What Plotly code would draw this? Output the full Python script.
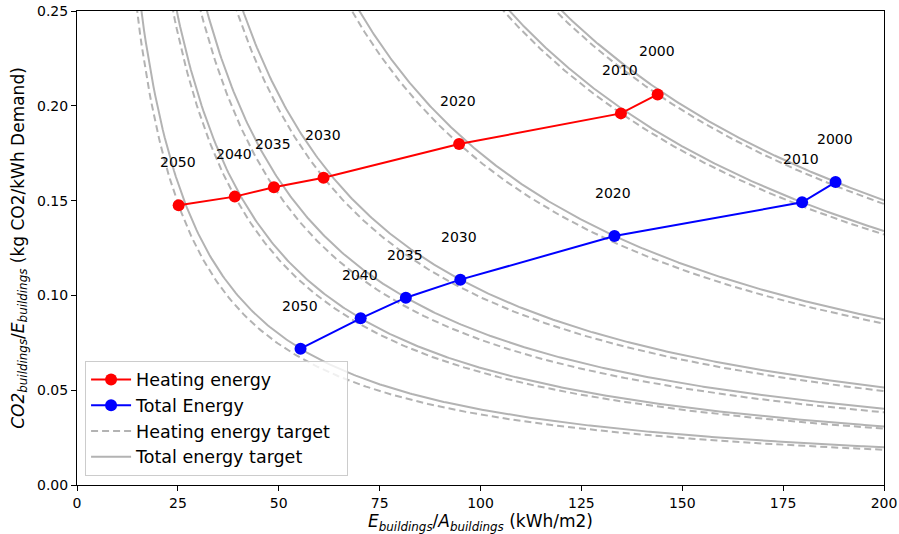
import numpy as np
import plotly.graph_objects as go

years = ["2000", "2010", "2020", "2030", "2035", "2040", "2050"]
heating_x = [143.9, 134.8, 94.7, 61.1, 48.8, 39.1, 25.2]
heating_y = [0.206, 0.196, 0.1798, 0.1621, 0.157, 0.1521, 0.1475]
total_x = [188.0, 179.7, 133.2, 95.0, 81.5, 70.3, 55.4]
total_y = [0.1598, 0.1491, 0.1313, 0.1083, 0.0988, 0.0879, 0.0719]

x_ticks = [0, 25, 50, 75, 100, 125, 150, 175, 200]
y_ticks = [0.0, 0.05, 0.10, 0.15, 0.20, 0.25]

FONT = "DejaVu Sans"
GRAY = "#b3b3b3"
PAD = "\u00a0\u00a0"

fig = go.Figure()

# target curves: constant CO2 per area (k = x*y) through each point
for i in range(len(years)):
    for xs, ys, dash, name, rank in [
        (heating_x, heating_y, "7px,4px", "Heating energy target", 3),
        (total_x, total_y, "solid", "Total energy target", 4),
    ]:
        k = xs[i] * ys[i]
        cx = np.linspace(k / 0.27, 200, 400)
        fig.add_trace(go.Scatter(
            x=cx, y=k / cx, mode="lines",
            line=dict(color=GRAY, width=2, dash=dash),
            name=name + PAD, legendgroup=name, showlegend=(i == 0),
            legendrank=rank, hoverinfo="skip",
        ))

fig.add_trace(go.Scatter(
    x=heating_x, y=heating_y, mode="lines+markers", name="Heating energy",
    line=dict(color="red", width=2), marker=dict(color="red", size=12),
    legendrank=1,
))
fig.add_trace(go.Scatter(
    x=total_x, y=total_y, mode="lines+markers", name="Total Energy",
    line=dict(color="blue", width=2), marker=dict(color="blue", size=12),
    legendrank=2,
))

for xs, ys in [(heating_x, heating_y), (total_x, total_y)]:
    for yr, xv, yv in zip(years, xs, ys):
        fig.add_annotation(x=xv, y=yv, text=yr, showarrow=False,
                           yshift=43, xshift=-1,
                           font=dict(family=FONT, size=14, color="black"))

fig.update_layout(
    width=899, height=534,
    margin=dict(l=77, r=15, t=11, b=49),
    paper_bgcolor="white", plot_bgcolor="white",
    font=dict(family=FONT, size=14, color="black"),
    legend=dict(
        x=0.01, y=0.02, xanchor="left", yanchor="bottom",
        bgcolor="rgba(255,255,255,0.8)", bordercolor="#cccccc", borderwidth=1,
        font=dict(family=FONT, size=17.5), tracegroupgap=0, itemwidth=40,
    ),
    xaxis=dict(
        range=[0, 200], tickvals=x_ticks, ticktext=[str(v) for v in x_ticks],
        showgrid=False, zeroline=False, showline=True, mirror=True,
        linecolor="black", linewidth=1, ticks="outside", ticklen=5,
        tickcolor="black", tickfont=dict(size=14),
        title=dict(text="<i>E</i><sub><i>buildings</i></sub>/<i>A</i><sub><i>buildings</i></sub> (kWh/m2)",
                   font=dict(size=17), standoff=6),
        automargin=False,
    ),
    yaxis=dict(
        range=[0, 0.25], tickvals=y_ticks, ticktext=[f"{v:.2f}" for v in y_ticks],
        showgrid=False, zeroline=False, showline=True, mirror=True,
        linecolor="black", linewidth=1, ticks="outside", ticklen=5,
        tickcolor="black", tickfont=dict(size=14),
        title=dict(text="<i>CO2</i><sub><i>buildings</i></sub>/<i>E</i><sub><i>buildings</i></sub> (kg CO2/kWh Demand)",
                   font=dict(size=17), standoff=8),
        automargin=False,
    ),
)

fig.write_html("out.html")
